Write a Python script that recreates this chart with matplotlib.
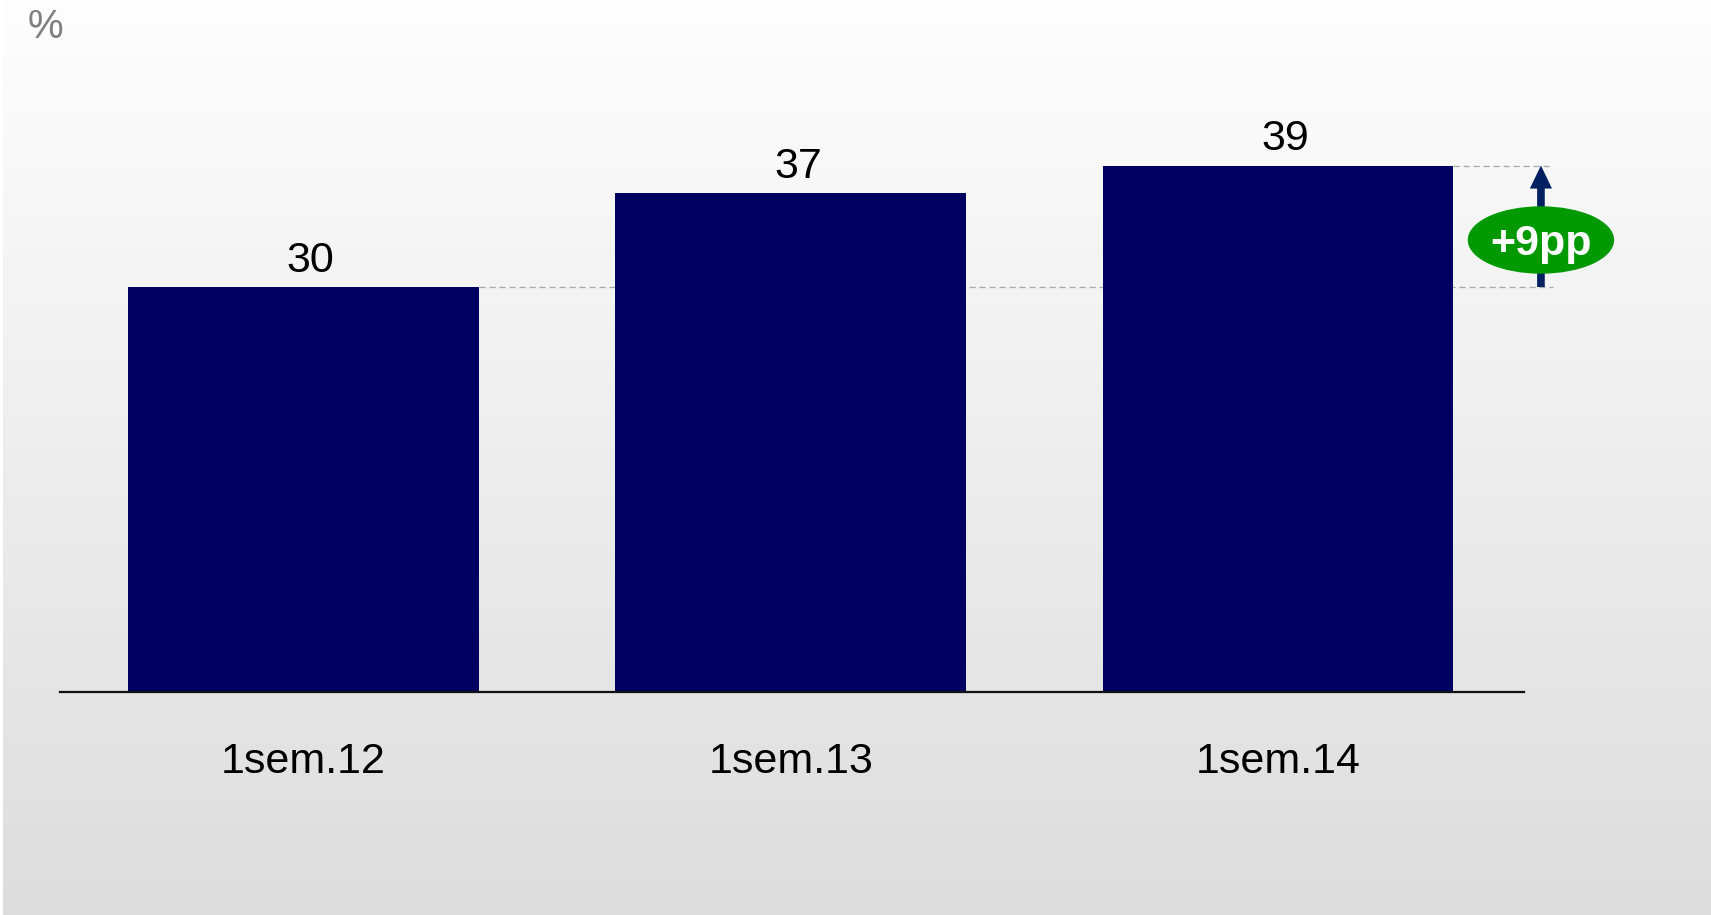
import numpy as np
import matplotlib
matplotlib.use('Agg')
import matplotlib.pyplot as plt
from matplotlib.patches import Ellipse

plt.rcParams['font.family'] = ['Liberation Sans', 'DejaVu Sans']

### Data
categories = ['1sem.12', '1sem.13', '1sem.14']
values = [30, 37, 39]
change_label = '+9pp'
unit_label = '%'

bar_color = '#000060'
arrow_color = '#002060'
badge_color = '#009900'

W, H, DPI = 1711, 915, 100
fig = plt.figure(figsize=(W / DPI, H / DPI), dpi=DPI)

# Background: vertical grey gradient, white strip on the left edge
bg = fig.add_axes([0, 0, 1, 1], zorder=-10)
grad = np.linspace(253, 220, 256).reshape(-1, 1) / 255.0
bg.imshow(np.repeat(grad, 2, axis=1), aspect='auto', cmap='gray', vmin=0, vmax=1,
          extent=[0, 1, 0, 1], origin='upper')
bg.axvspan(0, 3 / W, color='white', lw=0)
bg.set_xlim(0, 1)
bg.set_ylim(0, 1)
bg.axis('off')

# Main axes: x from 60px to 1524px, baseline at 692px
px_per_unit = 13.5
ymax = 50
left, right = 60 / W, 1524 / W
bottom = (H - 692) / H
height = ymax * px_per_unit / H
ax = fig.add_axes([left, bottom, right - left, height])
ax.patch.set_alpha(0)

x = np.arange(len(categories))
bar_w = 0.72
ax.set_xlim(-0.5, 2.505)
ax.set_ylim(0, ymax)

bars = ax.bar(x, values, width=bar_w, color=bar_color, zorder=3)

# Value labels
for xi, v in zip(x, values):
    ax.annotate(str(v), (xi, v), xytext=(7, 6), textcoords='offset pixels',
                ha='center', va='bottom', fontsize=31, color='black')

# Reference lines for first and last bar
x_end = 2 + (1553 - 1278) / 487.25
ax.plot([x[0] + bar_w / 2, x_end], [values[0]] * 2, ls=(0, (5, 3)), lw=0.9,
        color='#a8a8a8', zorder=1, clip_on=False)
ax.plot([x[-1] + bar_w / 2, x_end], [values[-1]] * 2, ls=(0, (5, 3)), lw=0.9,
        color='#a8a8a8', zorder=1, clip_on=False)

# Arrow showing the increase
x_arrow = 2 + (1541 - 1278) / 487.25
ax.annotate('', xy=(x_arrow, values[-1]), xytext=(x_arrow, values[0]),
            arrowprops=dict(arrowstyle='-|>,head_width=0.36,head_length=0.75',
                            color=arrow_color, lw=5.5, shrinkA=0, shrinkB=0,
                            joinstyle='miter', capstyle='butt'),
            annotation_clip=False, zorder=4)

# Green badge with the change
y_mid = (692 - 240) / px_per_unit
ell = Ellipse((x_arrow, y_mid), width=145 / 487.25, height=66 / px_per_unit,
              color=badge_color, zorder=5, clip_on=False)
ax.add_patch(ell)
ax.text(x_arrow, y_mid, change_label, ha='center', va='center_baseline',
        fontsize=31, fontweight='bold', color='white', zorder=6)

# Axis styling
for s in ['top', 'right', 'left']:
    ax.spines[s].set_visible(False)
ax.spines['bottom'].set_linewidth(1.6)
ax.spines['bottom'].set_color('#111111')
ax.spines['bottom'].set_zorder(5)
ax.set_yticks([])
ax.set_xticks(x)
ax.set_xticklabels(categories, fontsize=31)
ax.tick_params(axis='x', length=0, pad=36)

fig.text(28 / W, 1 - 27 / H, unit_label, ha='left', va='center',
         fontsize=29, color='#7f7f7f')

fig.savefig('out.png', dpi=DPI)
